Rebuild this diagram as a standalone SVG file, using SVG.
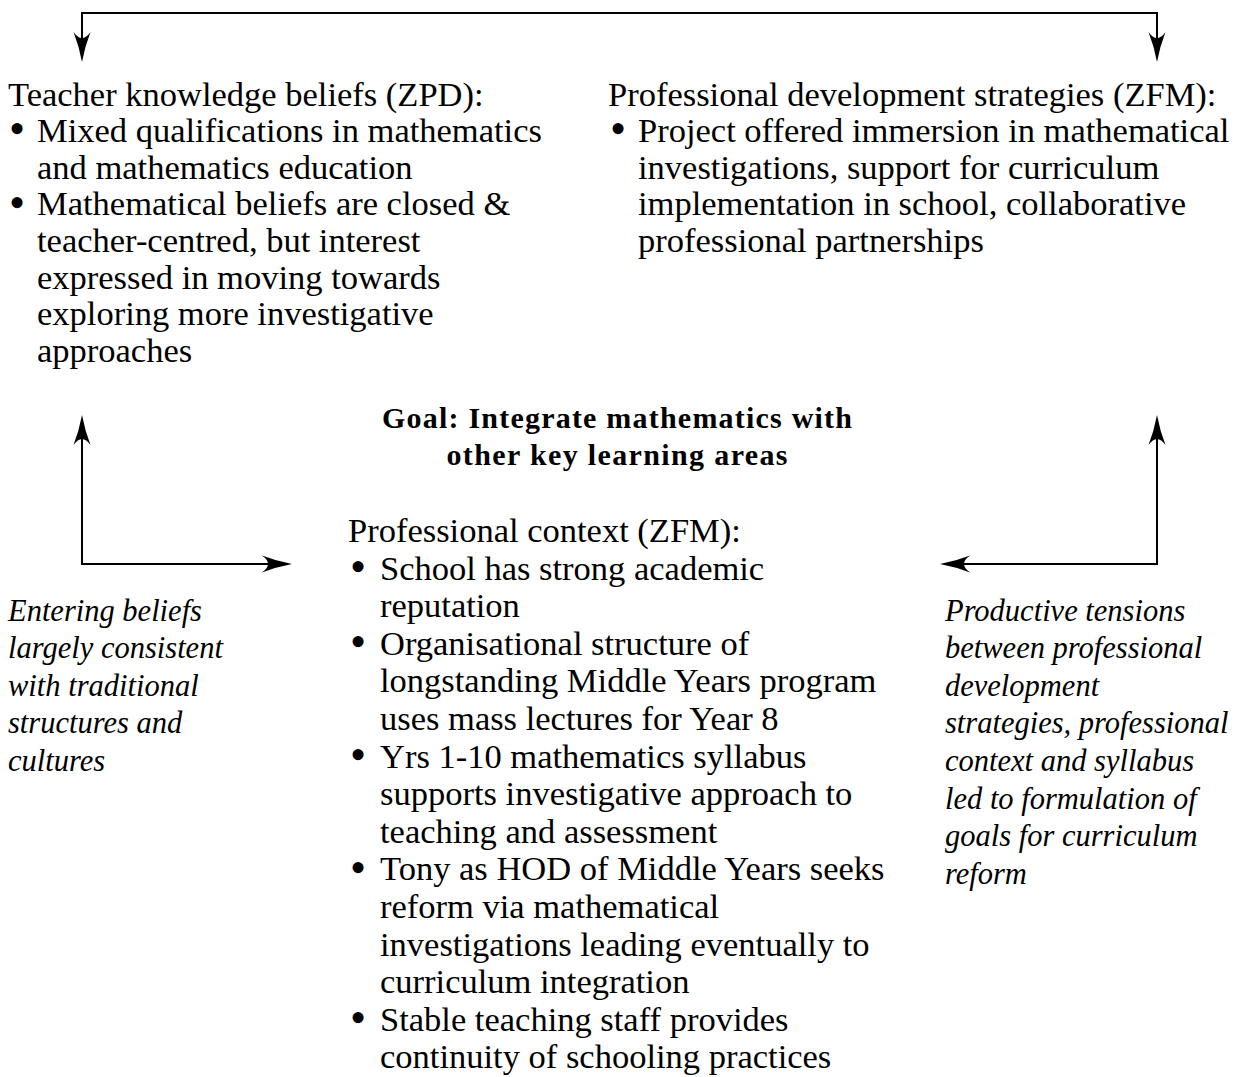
<svg xmlns="http://www.w3.org/2000/svg" width="1236" height="1077" viewBox="0 0 1236 1077">
<style>
.t{font-family:"Liberation Serif","Times New Roman",serif;font-size:34.5px;fill:#000}
.b{font-family:"Liberation Serif","Times New Roman",serif;font-size:30px;font-weight:bold;fill:#000;text-anchor:middle}
.i{font-family:"Liberation Serif","Times New Roman",serif;font-size:30.5px;font-style:italic;fill:#000}
.bu{font-family:"Liberation Serif","Times New Roman",serif;font-size:46px;fill:#000;text-anchor:middle}
.c{fill:none;stroke:#000;stroke-width:2}
</style>
<defs>
<marker id="ah" viewBox="0 -10 31 20" refX="10" refY="0" markerWidth="31" markerHeight="20" markerUnits="userSpaceOnUse" orient="auto-start-reverse">
<path d="M30,0 Q14,-3 0,-8.5 Q12,0 0,8.5 Q14,3 30,0 Z" fill="#000"/>
</marker>
</defs>
<rect width="1236" height="1077" fill="#fff"/>
<g id="connectors">
<path class="c" d="M82,42 V13 H1157 V42" marker-start="url(#ah)" marker-end="url(#ah)"/>
<path class="c" d="M82,435 V564 H272" marker-start="url(#ah)" marker-end="url(#ah)"/>
<path class="c" d="M1157,435 V564 H960" marker-start="url(#ah)" marker-end="url(#ah)"/>
</g>
<g id="teacher-knowledge">
<text class="t" x="8" y="105.5">Teacher knowledge beliefs (ZPD):</text>
<text class="bu" x="17" y="144.4">•</text>
<text class="t" x="37" y="142.1">Mixed qualifications in mathematics</text>
<text class="t" x="37" y="178.7">and mathematics education</text>
<text class="bu" x="17" y="217.6">•</text>
<text class="t" x="37" y="215.3">Mathematical beliefs are closed &amp;</text>
<text class="t" x="37" y="251.9">teacher-centred, but interest</text>
<text class="t" x="37" y="288.5">expressed in moving towards</text>
<text class="t" x="37" y="325.1">exploring more investigative</text>
<text class="t" x="37" y="361.7">approaches</text>
</g>
<g id="pd-strategies">
<text class="t" x="608" y="105.5">Professional development strategies (ZFM):</text>
<text class="bu" x="618" y="144.4">•</text>
<text class="t" x="638" y="142.1">Project offered immersion in mathematical</text>
<text class="t" x="638" y="178.7">investigations, support for curriculum</text>
<text class="t" x="638" y="215.3">implementation in school, collaborative</text>
<text class="t" x="638" y="251.9">professional partnerships</text>
</g>
<g id="goal">
<text class="b" x="617" y="428" textLength="470" lengthAdjust="spacing">Goal: Integrate mathematics with</text>
<text class="b" x="617" y="464.5" textLength="341" lengthAdjust="spacing">other key learning areas</text>
</g>
<g id="professional-context">
<text class="t" x="348" y="542">Professional context (ZFM):</text>
<text class="bu" x="358" y="581.9">•</text>
<text class="t" x="380" y="579.6">School has strong academic</text>
<text class="t" x="380" y="617.2">reputation</text>
<text class="bu" x="358" y="657.1">•</text>
<text class="t" x="380" y="654.8">Organisational structure of</text>
<text class="t" x="380" y="692.4">longstanding Middle Years program</text>
<text class="t" x="380" y="730">uses mass lectures for Year 8</text>
<text class="bu" x="358" y="769.9">•</text>
<text class="t" x="380" y="767.6">Yrs 1-10 mathematics syllabus</text>
<text class="t" x="380" y="805.2">supports investigative approach to</text>
<text class="t" x="380" y="842.8">teaching and assessment</text>
<text class="bu" x="358" y="882.7">•</text>
<text class="t" x="380" y="880.4">Tony as HOD of Middle Years seeks</text>
<text class="t" x="380" y="918">reform via mathematical</text>
<text class="t" x="380" y="955.6">investigations leading eventually to</text>
<text class="t" x="380" y="993.2">curriculum integration</text>
<text class="bu" x="358" y="1033.1">•</text>
<text class="t" x="380" y="1030.8">Stable teaching staff provides</text>
<text class="t" x="380" y="1068.4">continuity of schooling practices</text>
</g>
<g id="entering-beliefs">
<text class="i" x="8" y="620.5">Entering beliefs</text>
<text class="i" x="8" y="658.1">largely consistent</text>
<text class="i" x="8" y="695.7">with traditional</text>
<text class="i" x="8" y="733.3">structures and</text>
<text class="i" x="8" y="770.9">cultures</text>
</g>
<g id="productive-tensions">
<text class="i" x="945" y="620.5">Productive tensions</text>
<text class="i" x="945" y="658.1">between professional</text>
<text class="i" x="945" y="695.7">development</text>
<text class="i" x="945" y="733.3">strategies, professional</text>
<text class="i" x="945" y="770.9">context and syllabus</text>
<text class="i" x="945" y="808.5">led to formulation of</text>
<text class="i" x="945" y="846.1">goals for curriculum</text>
<text class="i" x="945" y="883.7">reform</text>
</g>
</svg>
